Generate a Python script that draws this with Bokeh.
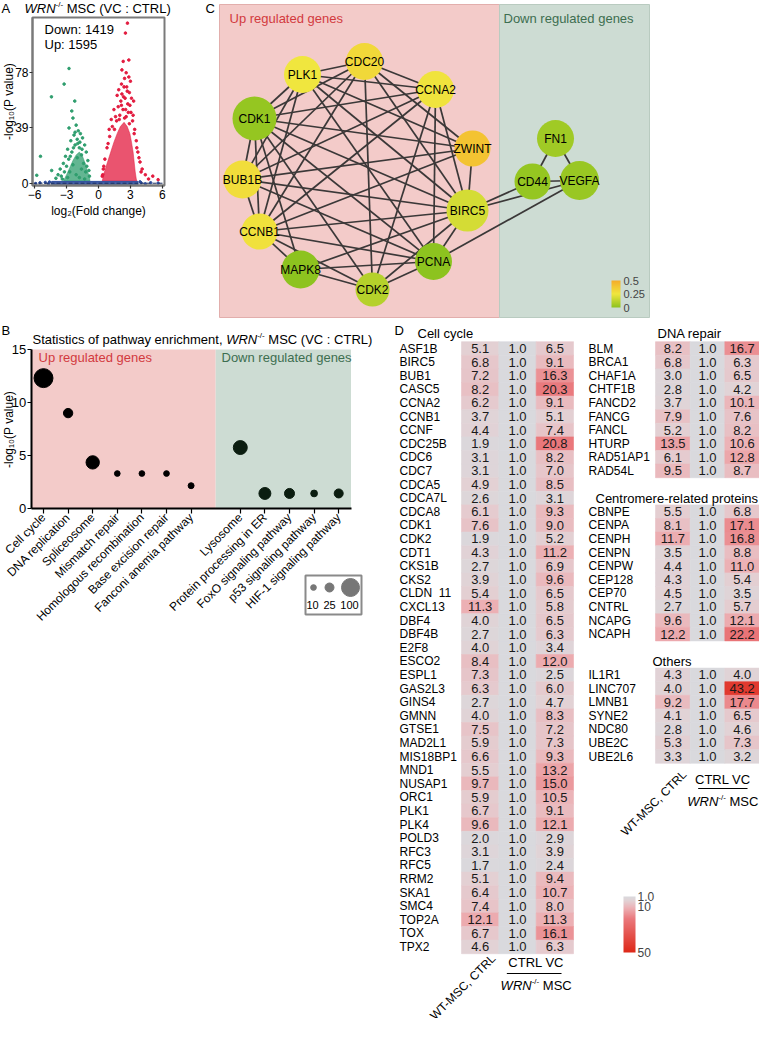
import math
from bokeh.plotting import figure
from bokeh.layouts import row, column
from bokeh.models import (ColumnDataSource, Range1d, Label, LinearColorMapper,
                          ColorBar, FixedTicker, LinearAxis, AllLabels)
from bokeh.transform import transform
from bokeh.core.properties import value
from bokeh.embed import file_html
from bokeh.resources import INLINE

FONT = "Liberation Sans"

# ======================= DATA =======================
# ---- Panel A: volcano (log2 fold change, -log10 P) ----
down_count = 1419
up_count = 1595
a_xticks = [-6, -3, 0, 3, 6]
a_yticks = [0, 39, 78]
green_pts = [(-2.77, 81), (-3.23, 70), (-4.42, 61), (-2.23, 58), (-2.51, 51), (-2.40, 46),
             (-2.77, 39), (-5.45, 19), (-4.40, 9), (-5.80, 5.6), (-2.10, 41), (-1.90, 37),
             (-2.30, 34), (-1.70, 35), (-2.60, 30), (-2.90, 24), (-3.10, 19), (-3.30, 14),
             (-3.60, 10), (-3.80, 6), (-3.50, 5), (-4.00, 3.5), (-1.50, 32), (-1.30, 27),
             (-1.15, 22), (-1.00, 16), (-0.90, 9), (-0.85, 5), (-2.00, 31), (-2.20, 27),
             (-2.50, 22), (-2.80, 17), (-3.00, 12), (-3.20, 8), (-1.80, 25), (-1.60, 20),
             (-1.40, 14), (-1.20, 8), (-2.00, 18), (-2.40, 13), (-2.70, 8), (-1.60, 10),
             (-2.10, 6), (-2.90, 4), (-1.80, 4), (-1.30, 3), (-1.95, 28), (-2.35, 25),
             (-1.55, 24), (-2.65, 19), (-3.40, 3), (-2.20, 36), (-1.75, 29), (-1.10, 12)]
green_core = [(-3.30, 1.5), (-3.00, 6), (-2.70, 11), (-2.40, 16), (-2.10, 20), (-1.80, 22),
              (-1.50, 19), (-1.25, 14), (-1.05, 9), (-0.85, 4), (-0.80, 1.5)]
red_pts = [(2.72, 113), (2.53, 106), (2.85, 87), (2.32, 86), (2.16, 70), (2.45, 74), (2.65, 68),
           (2.90, 64), (2.35, 61), (2.10, 58), (2.75, 56), (1.85, 54), (2.55, 52), (3.05, 50),
           (1.60, 47), (3.20, 44), (1.95, 45), (1.30, 40), (3.40, 38), (1.05, 33), (3.55, 30),
           (0.80, 25), (3.70, 22), (0.60, 17), (3.90, 15), (0.45, 10), (4.10, 10), (0.35, 5),
           (4.40, 6), (5.10, 5), (5.60, 2.5), (4.70, 3), (3.30, 58), (2.20, 80), (3.00, 72),
           (1.75, 62), (1.45, 52), (1.20, 45), (2.95, 55), (3.25, 48), (1.00, 38), (0.90, 28),
           (3.60, 25), (3.80, 18), (4.00, 8), (0.50, 12), (0.40, 6), (2.00, 48), (2.30, 52),
           (2.60, 47), (2.80, 50), (2.20, 63), (2.50, 60), (2.70, 65), (2.40, 68), (2.85, 75),
           (2.60, 78), (1.90, 66), (2.15, 55), (3.10, 60), (1.70, 44), (2.45, 46), (2.90, 42),
           (3.35, 35), (1.50, 38)]
red_core = [(0.35, 1.5), (0.55, 8), (0.85, 15), (1.15, 22), (1.45, 29), (1.75, 35), (2.05, 40),
            (2.40, 43), (2.70, 40), (2.95, 35), (3.10, 29), (3.25, 22), (3.35, 15), (3.45, 8),
            (3.55, 3), (3.60, 1.5)]
blue_core = [(-4.40, -1.3), (3.70, -1.3), (3.70, 1.3), (-4.40, 1.3)]
blue_pts = [(-5.5, 0.3), (-5.0, 0.6), (-4.7, -0.4), (4.0, 0.3), (4.4, -0.3), (4.9, 0.4),
            (5.6, 0.1), (-4.6, 0.9), (3.9, 1.0), (-5.9, -0.2)]

# ---- Panel B: pathway enrichment ----
up_pathways = ["Cell cycle", "DNA replication", "Spliceosome", "Mismatch repair",
               "Homologous recombination", "Base excision repair", "Fanconi anemia pathway"]
up_logp = [12.3, 9.0, 4.35, 3.3, 3.3, 3.3, 2.15]
up_counts = [111, 27, 55, 10, 10, 10, 11]
down_pathways = ["Lysosome", "Protein processing in ER", "FoxO signaling pathway",
                 "p53 signaling pathway", "HIF-1 signaling pathway"]
down_logp = [5.75, 1.42, 1.42, 1.42, 1.42]
down_counts = [60, 44, 31, 14, 25]
legend_counts = [10, 25, 100]
b_yticks = [0, 5, 10, 15]

# ---- Panel C: network ----
node_names = ["CDC20", "PLK1", "CCNA2", "CDK1", "ZWINT", "BUB1B", "BIRC5", "CCNB1",
              "PCNA", "MAPK8", "CDK2", "FN1", "CD44", "VEGFA"]
node_values = [0.31, 0.25, 0.26, 0.02, 0.40, 0.29, 0.18, 0.27, 0.0, 0.0, 0.10, 0.05, 0.02, 0.03]
edges = [("PLK1", "CDC20"), ("PLK1", "CCNA2"), ("PLK1", "ZWINT"), ("PLK1", "BIRC5"),
         ("PLK1", "PCNA"), ("PLK1", "CDK1"), ("PLK1", "BUB1B"), ("PLK1", "CCNB1"),
         ("CDC20", "CCNA2"), ("CDC20", "ZWINT"), ("CDC20", "BIRC5"), ("CDC20", "CDK1"),
         ("CDC20", "BUB1B"), ("CDC20", "CCNB1"), ("CDC20", "CDK2"),
         ("CCNA2", "CDK1"), ("CCNA2", "BUB1B"), ("CCNA2", "CCNB1"), ("CCNA2", "BIRC5"),
         ("CCNA2", "PCNA"), ("CCNA2", "CDK2"),
         ("ZWINT", "BIRC5"), ("ZWINT", "CDK1"), ("ZWINT", "BUB1B"), ("ZWINT", "CCNB1"),
         ("CDK1", "BUB1B"), ("CDK1", "CCNB1"), ("CDK1", "BIRC5"), ("CDK1", "PCNA"),
         ("CDK1", "CDK2"), ("CDK1", "MAPK8"),
         ("BUB1B", "CCNB1"), ("BUB1B", "BIRC5"), ("BUB1B", "PCNA"),
         ("CCNB1", "BIRC5"), ("CCNB1", "MAPK8"), ("CCNB1", "PCNA"), ("CCNB1", "CDK2"),
         ("BIRC5", "MAPK8"), ("BIRC5", "PCNA"), ("BIRC5", "CDK2"), ("BIRC5", "CD44"),
         ("BIRC5", "VEGFA"), ("MAPK8", "PCNA"), ("MAPK8", "CDK2"), ("PCNA", "CDK2"),
         ("PCNA", "VEGFA"), ("FN1", "CD44"), ("FN1", "VEGFA"), ("CD44", "VEGFA")]
c_ticks = [0, 0.25, 0.5]
# network layout (pixel-like layout units) and node diameters
node_x = [372, 310, 443, 262, 480, 250, 475, 267, 441, 308, 380, 563, 540, 587]
node_y = [69, 82, 97, 126, 156, 187, 218, 239, 269, 277, 297, 146, 189, 188]
node_d = [37, 37, 37, 44, 36, 38, 42, 36, 37, 38, 34, 37, 36, 39]

# ---- Panel D: heatmaps (fold change) ----
cc_genes = ["ASF1B", "BIRC5", "BUB1", "CASC5", "CCNA2", "CCNB1", "CCNF", "CDC25B", "CDC6",
            "CDC7", "CDCA5", "CDCA7L", "CDCA8", "CDK1", "CDK2", "CDT1", "CKS1B", "CKS2",
            "CLDN\u00a0\u00a011", "CXCL13", "DBF4", "DBF4B", "E2F8", "ESCO2", "ESPL1", "GAS2L3",
            "GINS4", "GMNN", "GTSE1", "MAD2L1", "MIS18BP1", "MND1", "NUSAP1", "ORC1", "PLK1",
            "PLK4", "POLD3", "RFC3", "RFC5", "RRM2", "SKA1", "SMC4", "TOP2A", "TOX", "TPX2"]
cc_wt = [5.1, 6.8, 7.2, 8.2, 6.2, 3.7, 4.4, 1.9, 3.1, 3.1, 4.9, 2.6, 6.1, 7.6, 1.9, 4.3, 2.7,
         3.9, 5.4, 11.3, 4.0, 2.7, 4.0, 8.4, 7.3, 6.3, 2.7, 4.0, 7.5, 5.9, 6.6, 5.5, 9.7, 5.9,
         6.7, 9.6, 2.0, 3.1, 1.7, 5.1, 6.4, 7.4, 12.1, 6.7, 4.6]
cc_ctrl = [1.0] * 45
cc_vc = [6.5, 9.1, 16.3, 20.3, 9.1, 5.1, 7.4, 20.8, 8.2, 7.0, 8.5, 3.1, 9.3, 9.0, 5.2, 11.2,
         6.9, 9.6, 6.5, 5.8, 6.5, 6.3, 3.4, 12.0, 2.5, 6.0, 4.7, 8.3, 7.2, 7.3, 9.3, 13.2, 15.0,
         10.5, 9.1, 12.1, 2.9, 3.9, 2.4, 9.4, 10.7, 8.0, 11.3, 16.1, 6.3]
dna_genes = ["BLM", "BRCA1", "CHAF1A", "CHTF1B", "FANCD2", "FANCG", "FANCL", "HTURP",
             "RAD51AP1", "RAD54L"]
dna_wt = [8.2, 6.8, 3.0, 2.8, 3.7, 7.9, 5.2, 13.5, 6.1, 9.5]
dna_ctrl = [1.0] * 10
dna_vc = [16.7, 6.3, 6.5, 4.2, 10.1, 7.6, 8.2, 10.6, 12.8, 8.7]
cen_genes = ["CBNPE", "CENPA", "CENPH", "CENPN", "CENPW", "CEP128", "CEP70", "CNTRL",
             "NCAPG", "NCAPH"]
cen_wt = [5.5, 8.1, 11.7, 3.5, 4.4, 4.3, 4.5, 2.7, 9.6, 12.2]
cen_ctrl = [1.0] * 10
cen_vc = [6.8, 17.1, 16.8, 8.8, 11.0, 5.4, 3.5, 5.7, 12.1, 22.2]
oth_genes = ["IL1R1", "LINC707", "LMNB1", "SYNE2", "NDC80", "UBE2C", "UBE2L6"]
oth_wt = [4.3, 4.0, 9.2, 4.1, 2.8, 5.3, 3.3]
oth_ctrl = [1.0] * 7
oth_vc = [4.0, 43.2, 17.7, 6.5, 4.6, 7.3, 3.2]
d_ticks = [1, 10, 50]

# ======================= HELPERS =======================
AW = {' ': 278, '!': 278, '(': 333, ')': 333, ',': 278, '-': 333, '.': 278, '/': 278, ':': 278,
      'A': 667, 'B': 667, 'C': 722, 'D': 722, 'E': 667, 'F': 611, 'G': 778, 'H': 722, 'I': 278,
      'J': 500, 'K': 667, 'L': 556, 'M': 833, 'N': 722, 'O': 778, 'P': 667, 'Q': 778, 'R': 722,
      'S': 667, 'T': 611, 'U': 722, 'V': 667, 'W': 944, 'X': 667, 'Y': 667, 'Z': 611,
      'a': 556, 'b': 556, 'c': 500, 'd': 556, 'e': 556, 'f': 278, 'g': 556, 'h': 556, 'i': 222,
      'j': 222, 'k': 500, 'l': 222, 'm': 833, 'n': 556, 'o': 556, 'p': 556, 'q': 556, 'r': 333,
      's': 500, 't': 278, 'u': 556, 'v': 500, 'w': 722, 'x': 500, 'y': 500, 'z': 500}


def tw(s, size):
    return sum(AW.get(ch, 556) for ch in s) * size / 1000.0


def ramp(stops, n=256):
    out = []
    for i in range(n):
        t = i / (n - 1)
        rgb = stops[-1][1]
        for (t0, c0), (t1, c1) in zip(stops[:-1], stops[1:]):
            if t0 <= t <= t1:
                f = (t - t0) / (t1 - t0)
                rgb = [round(a + (b - a) * f) for a, b in zip(c0, c1)]
                break
        out.append("#%02x%02x%02x" % tuple(rgb))
    return out


def base_fig(w, h, xr, yr):
    p = figure(width=w, height=h, x_range=xr, y_range=yr, output_backend="svg",
               toolbar_location=None, min_border=0, x_axis_location=None,
               y_axis_location=None, title=None)
    p.min_border_left = p.min_border_right = p.min_border_top = p.min_border_bottom = 0
    p.outline_line_color = None
    p.background_fill_color = "white"
    p.border_fill_color = "white"
    p.grid.visible = False
    return p


def lab(p, x, y, text, size=13, color="black", style="normal", align="left", xo=0, yo=0,
        angle=0.0):
    p.add_layout(Label(x=x, y=y, text=text, x_offset=xo, y_offset=yo, text_font=FONT,
                       text_font_size=f"{size}px", text_font_style=style, text_color=color,
                       text_align=align, text_baseline="middle", angle=angle))


def rich(p, x, y, pieces, align="left"):
    total = sum(tw(t, s) for t, s, st, r in pieces)
    off = 0 if align == "left" else -total / 2
    for t, s, st, r in pieces:
        body = t.lstrip(" ")
        lead = tw(t[:len(t) - len(body)], s)
        lab(p, x, y, body, size=s, style=st, xo=off + lead, yo=r)
        off += tw(t, s)


def style_axis(a, lsize="12px", color="black", width=1.5, tick_out=4):
    a.axis_line_color = color
    a.axis_line_width = width
    a.major_tick_line_color = color
    a.major_tick_line_width = 1.2
    a.major_tick_out = tick_out
    a.major_tick_in = 0
    a.minor_tick_line_color = None
    a.major_label_text_font = FONT
    a.major_label_text_font_size = lsize
    a.major_label_text_color = "black"
    a.axis_label_text_font = FONT
    a.axis_label_text_font_size = "12px"
    a.axis_label_text_font_style = "normal"
    a.axis_label_text_color = "black"
    a.major_label_standoff = 1
    a.axis_label_standoff = 0


WRN_TITLE = [("WRN", 13, "italic", 0), ("-/-", 8, "normal", 4), (" MSC (VC : CTRL)", 13, "normal", 0)]
Y_LABEL = "-log₁₀(P value)"

# ======================= PANEL A =======================
XA0, XA1, YA0, YA1 = -6.2, 6.2, -1.6, 117.0
KXA = 132 / (XA1 - XA0)
KYA = 168 / (YA1 - YA0)


def ax_(px):
    return XA0 + (px - 40) / KXA


def ay_(py):
    return YA0 + (193 - py) / KYA


pA = base_fig(200, 322, Range1d(ax_(8), ax_(208)), Range1d(ay_(330), ay_(8)))
GREEN, RED, BLUE = "#2f9e6e", "#e31b3f", "#2c4c9c"
pA.patch([p[0] for p in green_core], [p[1] for p in green_core], fill_color=GREEN,
         fill_alpha=0.75, line_color=GREEN, line_alpha=0.5)
pA.scatter([p[0] for p in green_pts], [p[1] for p in green_pts], size=2.6, color=GREEN)
pA.patch([p[0] for p in red_core], [p[1] for p in red_core], fill_color=RED,
         fill_alpha=0.75, line_color=RED, line_alpha=0.5)
pA.scatter([p[0] for p in red_pts], [p[1] for p in red_pts], size=2.6, color=RED)
pA.patch([p[0] for p in blue_core], [p[1] for p in blue_core], fill_color=BLUE,
         fill_alpha=0.9, line_color=BLUE)
pA.scatter([p[0] for p in blue_pts], [p[1] for p in blue_pts], size=2.4, color=BLUE)
pA.segment(x0=[XA0], y0=[0], x1=[XA1], y1=[0], line_color="#1d2f5e", line_width=1,
           line_dash="4 2")
pA.quad(left=XA0, right=XA1, bottom=YA0, top=YA1, fill_color=None, line_color="#7a7a7a",
        line_width=2)
ya = LinearAxis(fixed_location=XA0, bounds=(YA0, YA1), ticker=FixedTicker(ticks=a_yticks))
style_axis(ya, color="#7a7a7a", width=2, tick_out=3)
ya.major_tick_line_color = "#333333"
pA.add_layout(ya, "left")
xa = LinearAxis(fixed_location=YA0, bounds=(XA0, XA1), ticker=FixedTicker(ticks=a_xticks),
                axis_label="log₂(Fold change)")
style_axis(xa, color="#7a7a7a", width=2, tick_out=3)
xa.major_tick_line_color = "#333333"
xa.axis_label_standoff = 2
pA.add_layout(xa, "below")
lab(pA, ax_(16), ay_(109), Y_LABEL, size=12, align="center", angle=math.pi / 2)
lab(pA, ax_(9), ay_(16), "A", size=13)
rich(pA, ax_(32), ay_(16), WRN_TITLE)
lab(pA, ax_(52), ay_(37), f"Down: {down_count}")
lab(pA, ax_(52), ay_(52), f"Up: {up_count}")

# ======================= PANEL C =======================
pC = base_fig(559, 322, Range1d(208, 767), Range1d(330, 8))
pC.quad(left=[227], right=[507], bottom=[325], top=[12], fill_color="#f3cbc9",
        line_color="#e2aeac", line_width=1)
pC.quad(left=[507], right=[657], bottom=[325], top=[12], fill_color="#cddcd3",
        line_color="#b9cbc0", line_width=1)
idx = {n: i for i, n in enumerate(node_names)}
pC.segment(x0=[node_x[idx[a]] for a, b in edges], y0=[node_y[idx[a]] for a, b in edges],
           x1=[node_x[idx[b]] for a, b in edges], y1=[node_y[idx[b]] for a, b in edges],
           line_color="#3b3838", line_width=1.7)
palC = ramp([(0.0, (141, 195, 31)), (0.5, (240, 230, 62)), (1.0, (245, 172, 42))])
cmapC = LinearColorMapper(palette=palC, low=0, high=0.5)
srcC = ColumnDataSource(dict(x=node_x, y=node_y, d=node_d, v=node_values, name=node_names))
pC.scatter(x="x", y="y", size="d", fill_color=transform("v", cmapC), line_color=None,
           source=srcC)
pC.text(x="x", y="y", text="name", source=srcC, text_align="center", text_baseline="middle",
        text_font=value(FONT), text_font_size=value("12px"), text_color="black")
lab(pC, 213, 16, "C", size=13)
lab(pC, 237, 26, "Up regulated genes", color="#d23a3e")
lab(pC, 511, 26, "Down regulated genes", color="#3d6e50")
cbC = ColorBar(color_mapper=cmapC, ticker=FixedTicker(ticks=c_ticks), width=9, height=27,
               location=(411, 15), padding=0, label_standoff=3, major_label_text_font=FONT,
               major_label_text_font_size="11px", major_tick_line_color=None,
               bar_line_color=None, border_line_color=None, background_fill_alpha=0,
               major_label_policy=AllLabels())
pC.add_layout(cbC)

# ======================= PANEL B =======================
KXB, KYB = 24.6, 10.6


def bx(px):
    return (px - 51) / KXB


def by(py):
    return (516 - py) / KYB


pB = base_fig(392, 380, Range1d(bx(8), bx(400)), Range1d(by(710), by(330)))
n_up, n_dn = len(up_pathways), len(down_pathways)
up_pos = list(range(n_up))
dn_pos = [n_up + 1 + j for j in range(n_dn)]
x_end = dn_pos[-1] + 0.5
pB.quad(left=[-0.5], right=[n_up], bottom=[0], top=[b_yticks[-1]], fill_color="#f3cbc9",
        line_color=None)
pB.quad(left=[n_up], right=[x_end], bottom=[0], top=[b_yticks[-1]], fill_color="#cddcd3",
        line_color=None)


def bsize(n):
    return 1.8 * math.sqrt(n)


pB.scatter(up_pos, up_logp, size=[bsize(n) for n in up_counts], color="black")
pB.scatter(dn_pos, down_logp, size=[bsize(n) for n in down_counts], color="#0b1d10")
yb = LinearAxis(fixed_location=-0.5, bounds=(0, b_yticks[-1]), ticker=FixedTicker(ticks=b_yticks))
style_axis(yb, lsize="13px", width=2, tick_out=4)
pB.add_layout(yb, "left")
xb = LinearAxis(fixed_location=0, bounds=(-0.5, x_end), ticker=FixedTicker(ticks=up_pos + dn_pos),
                major_label_overrides={p: n for p, n in zip(up_pos + dn_pos, up_pathways + down_pathways)})
style_axis(xb, lsize="12px", width=2, tick_out=5)
xb.major_label_orientation = math.pi / 4
xb.major_label_standoff = 2
pB.add_layout(xb, "below")
lab(pB, bx(16), by(437), Y_LABEL, size=12, align="center", angle=math.pi / 2)
lab(pB, bx(9), by(338), "B", size=13)
rich(pB, bx(40), by(347), [("Statistics of pathway enrichment, ", 13, "normal", 0)] + WRN_TITLE)
lab(pB, bx(46), by(365), "Up regulated genes", color="#d23a3e")
lab(pB, bx(229), by(365), "Down regulated genes", color="#3d6e50")
# size legend
pB.quad(left=[bx(313)], right=[bx(369)], bottom=[by(622)], top=[by(583)], fill_color="white",
        line_color="#8a8a8a", line_width=2)
pB.scatter([bx(321), bx(337), bx(358)], [by(595)] * 3, size=[bsize(n) for n in legend_counts],
           color="#777777")
for xx, n in zip([bx(320), bx(337), bx(357)], legend_counts):
    lab(pB, xx, by(612), str(n), size=11, align="center")

# ======================= PANEL D =======================
def ry(py):
    return (py - 356) / 13.6


pD = base_fig(367, 696, Range1d(400, 767), Range1d(ry(1026), ry(330)))
palD = ramp([(0.0, (217, 217, 221)), (0.08, (227, 209, 212)), (0.2, (236, 178, 182)),
             (0.4, (234, 120, 124)), (1.0, (222, 40, 24))])
cmapD = LinearColorMapper(palette=palD, low=1, high=50)
blocks = [(cc_genes, cc_wt, cc_ctrl, cc_vc, 0, 469, 112 / 3, 407),
          (dna_genes, dna_wt, dna_ctrl, dna_vc, 0, 663, 104 / 3, 596),
          (cen_genes, cen_wt, cen_ctrl, cen_vc, 12, 663, 104 / 3, 596),
          (oth_genes, oth_wt, oth_ctrl, oth_vc, 24, 663, 104 / 3, 596)]
cx, cy, cw, cv, ct, gx, gy, gt = [], [], [], [], [], [], [], []
for genes, wt, ctrl, vc, row0, x0, w, lx in blocks:
    for k, g in enumerate(genes):
        gx.append(lx); gy.append(row0 + k); gt.append(g)
        for c, vals in enumerate((wt, ctrl, vc)):
            cx.append(x0 + (c + 0.5) * w); cy.append(row0 + k); cw.append(w)
            cv.append(vals[k]); ct.append(f"{vals[k]:.1f}")
srcD = ColumnDataSource(dict(x=cx, y=cy, w=cw, v=cv, t=ct))
pD.rect(x="x", y="y", width="w", height=1.0, source=srcD, fill_color=transform("v", cmapD),
        line_color=transform("v", cmapD), line_width=0.6)
pD.text(x="x", y="y", text="t", source=srcD, text_align="center", text_baseline="middle",
        text_font=value(FONT), text_font_size=value("13px"), text_color="#1a1a1a")
srcG = ColumnDataSource(dict(x=gx, y=gy, t=gt))
pD.text(x="x", y="y", text="t", source=srcG, text_align="left", text_baseline="middle",
        text_font=value(FONT), text_font_size=value("12px"), text_color="black")
lab(pD, 402, ry(338), "D", size=13)
lab(pD, 425, ry(341), "Cell cycle")
lab(pD, 665, ry(341), "DNA repair")
lab(pD, 603, ry(505.6), "Centromere-related proteins")
lab(pD, 660, ry(668.8), "Others")
# column labels
for x0, w, y_ctrl, y_line, y_wrn, wt_anchor, mid_shift in [
        (469, 112 / 3, 970, 981, 993, (501, 964), 0),
        (663, 104 / 3, 787, 796, 809, (692, 780), -2)]:
    mid = x0 + 2 * w + mid_shift
    lab(pD, mid, ry(y_ctrl), "CTRL VC", align="center")
    pD.segment(x0=[x0 + w + 8], y0=[ry(y_line)], x1=[x0 + 3 * w - 12], y1=[ry(y_line)],
               line_color="black", line_width=1.2)
    rich(pD, mid, ry(y_wrn), WRN_TITLE[:2] + [(" MSC", 13, "normal", 0)], align="center")
    lab(pD, wt_anchor[0], ry(wt_anchor[1]), "WT-MSC, CTRL", size=12, align="right",
        angle=math.pi / 4)
cmap_bar = LinearColorMapper(palette=palD[::-1], low=-d_ticks[-1], high=-d_ticks[0])
cbD = ColorBar(color_mapper=cmap_bar, ticker=FixedTicker(ticks=[-t for t in d_ticks]),
               major_label_overrides={-t: ("1.0" if t == 1 else str(t)) for t in d_ticks},
               width=12, height=56, location=(231, 66), padding=0, label_standoff=2,
               major_label_text_font=FONT, major_label_text_font_size="12px",
               major_tick_line_color=None, bar_line_color=None, border_line_color=None,
               background_fill_alpha=0, major_label_policy=AllLabels())
pD.add_layout(cbD)

layout = column(row(pA, pC), row(pB, pD))
open("out.html", "w").write(file_html(layout, INLINE))
